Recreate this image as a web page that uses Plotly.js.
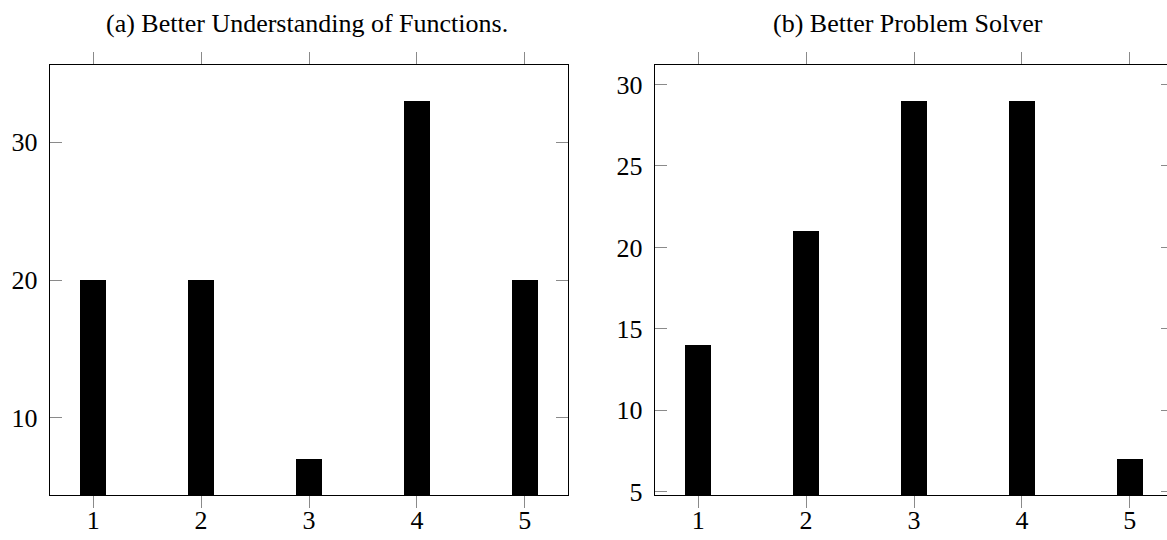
<!DOCTYPE html>
<html>
<head>
<meta charset="utf-8">
<script src="https://cdn.plot.ly/plotly-3.0.1.min.js"></script>
<style>
  html, body { margin: 0; padding: 0; overflow: hidden; background: #fff; }
  #chart { width: 1180px; height: 540px; }
</style>
</head>
<body>
<div id="chart"></div>
<script>
const categories = [1, 2, 3, 4, 5];
const functionsCounts = [20, 20, 7, 33, 20];
const solverCounts = [14, 21, 29, 29, 7];
const titleA = "(a) Better Understanding of Functions.";
const titleB = "(b) Better Problem Solver";
const yTicksA = [10, 20, 30];
const yTicksB = [5, 10, 15, 20, 25, 30];

const W = 1180, H = 540;
const font = "'Liberation Serif', 'Times New Roman', serif";

const traces = [
  { type: "bar", x: categories, y: functionsCounts, width: 0.24,
    marker: { color: "#000", line: { width: 0 } }, xaxis: "x", yaxis: "y", hoverinfo: "x+y" },
  { type: "bar", x: categories, y: solverCounts, width: 0.24,
    marker: { color: "#000", line: { width: 0 } }, xaxis: "x2", yaxis: "y2", hoverinfo: "x+y" }
];

function xAxis(domain, anchor) {
  return {
    domain: domain, anchor: anchor, range: [0.6, 5.4],
    tickvals: categories, ticktext: categories.map(String),
    ticks: "outside", ticklen: 12, tickwidth: 1, tickcolor: "#8a8a8a",
    showline: true, linecolor: "#000", linewidth: 1.3, mirror: "ticks",
    showgrid: false, zeroline: false,
    tickfont: { family: font, size: 26, color: "#000" }, ticklabelstandoff: -11
  };
}
function yAxis(domain, anchor, range, ticks) {
  return {
    domain: domain, anchor: anchor, range: range,
    tickvals: ticks, ticktext: ticks.map(String),
    ticks: "inside", ticklen: 12, tickwidth: 1, tickcolor: "#8a8a8a",
    showline: true, linecolor: "#000", linewidth: 1.3, mirror: "ticks",
    showgrid: false, zeroline: false,
    tickfont: { family: font, size: 26, color: "#000" }, ticklabelstandoff: 6
  };
}

const yDom = [1 - 495 / H, 1 - 65 / H];
const layout = {
  width: W, height: H,
  margin: { l: 0, r: 0, t: 0, b: 0, pad: 0 },
  paper_bgcolor: "#fff", plot_bgcolor: "#fff",
  showlegend: false, bargap: 0,
  xaxis: xAxis([50 / W, 568 / W], "y"),
  yaxis: yAxis(yDom, "x", [4.4, 35.6], yTicksA),
  xaxis2: xAxis([655 / W, 1173 / W], "y2"),
  yaxis2: yAxis(yDom, "x2", [4.8, 31.2], yTicksB),
  annotations: [
    { text: titleA, xref: "paper", yref: "paper", x: 307 / W, y: 1 - 23 / H,
      xanchor: "center", yanchor: "middle", showarrow: false,
      font: { family: font, size: 26, color: "#000" } },
    { text: titleB, xref: "paper", yref: "paper", x: 908 / W, y: 1 - 23 / H,
      xanchor: "center", yanchor: "middle", showarrow: false,
      font: { family: font, size: 26, color: "#000" } }
  ]
};

Plotly.newPlot("chart", traces, layout, { displayModeBar: false, staticPlot: true });
</script>
</body>
</html>
